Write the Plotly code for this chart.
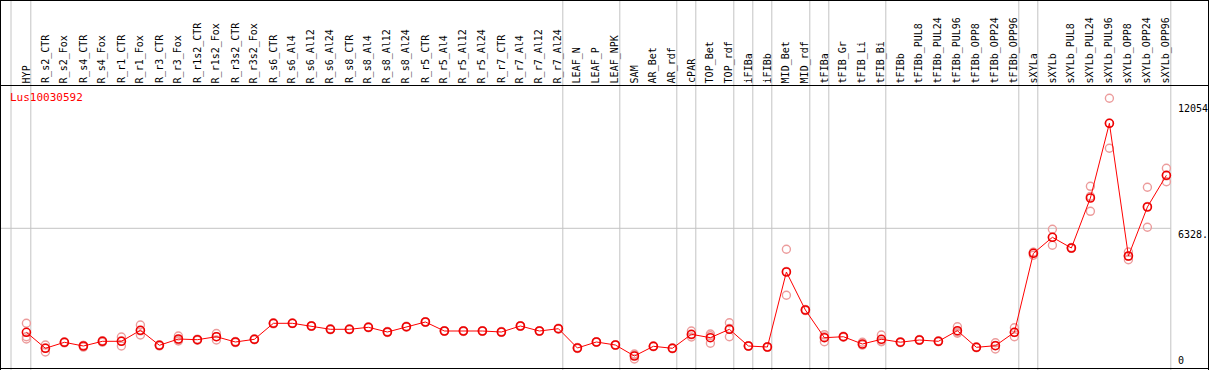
import plotly.graph_objects as go

title = "Lus10030592"
samples = ["HYP", "R_s2_CTR", "R_s2_Fox", "R_s4_CTR", "R_s4_Fox", "R_r1_CTR", "R_r1_Fox",
           "R_r3_CTR", "R_r3_Fox", "R_r1s2_CTR", "R_r1s2_Fox", "R_r3s2_CTR", "R_r3s2_Fox",
           "R_s6_CTR", "R_s6_Al4", "R_s6_Al12", "R_s6_Al24", "R_s8_CTR", "R_s8_Al4", "R_s8_Al12",
           "R_s8_Al24", "R_r5_CTR", "R_r5_Al4", "R_r5_Al12", "R_r5_Al24", "R_r7_CTR", "R_r7_Al4",
           "R_r7_Al12", "R_r7_Al24", "LEAF_N", "LEAF_P", "LEAF_NPK", "SAM", "AR_Bet", "AR_rdf",
           "cPAR", "TOP_Bet", "TOP_rdf", "iFIBa", "iFIBb", "MID_Bet", "MID_rdf", "tFIBa",
           "tFIB_Gr", "tFIB_Li", "tFIB_Bi", "tFIBb", "tFIBb_PUL8", "tFIBb_PUL24", "tFIBb_PUL96",
           "tFIBb_OPP8", "tFIBb_OPP24", "tFIBb_OPP96", "sXYLa", "sXYLb", "sXYLb_PUL8",
           "sXYLb_PUL24", "sXYLb_PUL96", "sXYLb_OPP8", "sXYLb_OPP24", "sXYLb_OPP96"]

mean_values = [1627, 904, 1175, 1008, 1220, 1220, 1718, 1040, 1324, 1293, 1428, 1189, 1311,
               2034, 2034, 1912, 1763, 1763, 1853, 1641, 1880, 2093, 1686, 1686, 1686, 1641,
               1912, 1686, 1790, 918, 1189, 1053, 556, 994, 904, 1537, 1383, 1763, 1008, 963,
               4353, 2635, 1383, 1428, 1098, 1311, 1180, 1279, 1220, 1700, 949, 1022, 1627,
               5198, 5921, 5438, 7698, 11074, 5076, 7291, 8724]

rep1 = [2034, 1053, 1190, 1030, 1250, 1415, 1957, 1060, 1460, 1320, 1573, 1210, 1330,
        2060, 2050, 1930, 1790, 1780, 1870, 1660, 1900, 2110, 1700, 1705, 1700, 1660,
        1930, 1700, 1810, 940, 1200, 1070, 420, 1010, 920, 1686, 1550, 2061, 1020, 980,
        5379, 2660, 1519, 1450, 1175, 1505, 1200, 1300, 1240, 1880, 965, 1157, 1835,
        5108, 6283, 5460, 8226, 12204, 5257, 8181, 9040]
rep2 = [1428, 737, 1150, 960, 1180, 1008, 1505, 1010, 1234, 1270, 1279, 1160, 1290,
        2010, 2020, 1895, 1740, 1745, 1835, 1620, 1860, 2075, 1670, 1665, 1670, 1625,
        1895, 1670, 1770, 895, 1175, 1035, 600, 975, 885, 1415, 1130, 1428, 995, 945,
        3300, 2610, 1202, 1405, 1060, 1202, 1160, 1260, 1200, 1582, 930, 872, 1428,
        5240, 5560, 5420, 7096, 9944, 4909, 6373, 8434]
rep3 = [1324, 922, 1185, 1035, 1230, 1237, 1692, 1050, 1278, 1290, 1432, 1197, 1313,
        2032, 2032, 1911, 1759, 1764, 1854, 1643, 1880, 2094, 1688, 1688, 1688, 1638,
        1911, 1688, 1790, 919, 1192, 1054, 648, 997, 907, 1510, 1469, 1800, 1009, 964,
        4380, 2635, 1428, 1429, 1060, 1226, 1180, 1277, 1220, 1638, 952, 1037, 1618,
        5246, 5920, 5434, 7772, 11074, 5062, 7319, 8698]

group_ends = [-1, 0, 28, 31, 34, 35, 37, 38, 39, 41, 42, 45, 52, 53, 60]
ref_value = 6328
axis_labels = ["12054", "6328.", "0"]

W, H = 1209, 370
P0, STEP = 26.4, 19.0
Y0PX, K = 368.3, 140.0 / 6328.0

x_idx = list(range(len(samples)))
xr = [-P0 / STEP, (W - P0) / STEP]
yr = [-(H - Y0PX) / K, Y0PX / K]

def py(p):
    return 1 - p / H

def px(p):
    return p / W

fig = go.Figure()
for reps in (rep1, rep2, rep3):
    fig.add_trace(go.Scatter(x=x_idx, y=reps, mode="markers",
                             marker=dict(symbol="circle-open", size=8, color="#ec9c9c",
                                         line=dict(width=1.4)),
                             hoverinfo="skip"))
fig.add_trace(go.Scatter(x=x_idx, y=mean_values, mode="lines+markers",
                         line=dict(color="#ff0000", width=1),
                         marker=dict(symbol="circle-open", size=8, color="#ee0000",
                                     line=dict(width=1.6))))

shapes = []
for g in group_ends:
    xv = g + 0.2316 if g >= 0 else -0.81
    shapes.append(dict(type="line", xref="x", yref="paper", x0=xv, x1=xv, y0=0, y1=1,
                       line=dict(color="#c4c4c4", width=1), layer="below"))
shapes.append(dict(type="line", xref="x", yref="y", x0=xr[0], x1=60.2316,
                   y0=ref_value, y1=ref_value, line=dict(color="#c4c4c4", width=1),
                   layer="below"))
black = dict(color="#000000", width=1)
shapes += [
    dict(type="line", xref="paper", yref="paper", x0=0, x1=1, y0=py(0.5), y1=py(0.5), line=black),
    dict(type="line", xref="paper", yref="paper", x0=0, x1=1, y0=py(368.5), y1=py(368.5), line=black),
    dict(type="line", xref="paper", yref="paper", x0=0, x1=1, y0=py(85.5), y1=py(85.5), line=black),
    dict(type="line", xref="paper", yref="paper", x0=px(0.5), x1=px(0.5), y0=0, y1=1, line=black),
    dict(type="line", xref="paper", yref="paper", x0=px(1208.5), x1=px(1208.5), y0=0, y1=1, line=black),
]

font = dict(family="DejaVu Sans Mono", size=10, color="#000000")
ann = []
for i, s in enumerate(samples):
    ann.append(dict(x=i, y=py(84), xref="x", yref="paper", text=s, textangle=-90,
                    showarrow=False, xanchor="center", yanchor="bottom", font=font,
                    borderpad=0))
ann.append(dict(x=px(9), y=py(97), xref="paper", yref="paper", text=title, showarrow=False,
                xanchor="left", yanchor="middle",
                font=dict(family="DejaVu Sans Mono", size=11, color="#ff0000"), borderpad=0))
ann.append(dict(x=px(1177), y=py(102), xref="paper", yref="paper", text=axis_labels[0],
                showarrow=False, xanchor="left", yanchor="top", font=font, borderpad=0))
ann.append(dict(x=px(1177), y=py(228), xref="paper", yref="paper", text=axis_labels[1],
                showarrow=False, xanchor="left", yanchor="top", font=font, borderpad=0))
ann.append(dict(x=px(1177), y=py(367), xref="paper", yref="paper", text=axis_labels[2],
                showarrow=False, xanchor="left", yanchor="bottom", font=font, borderpad=0))

fig.update_layout(
    width=W, height=H, margin=dict(l=0, r=0, t=0, b=0),
    paper_bgcolor="white", plot_bgcolor="white", showlegend=False,
    xaxis=dict(range=xr, visible=False, fixedrange=True),
    yaxis=dict(range=yr, visible=False, fixedrange=True),
    shapes=shapes, annotations=ann, hovermode=False,
)
fig.write_html("out.html", config={"displayModeBar": False},
               post_script="document.body.style.margin='0';document.body.style.padding='0';")
